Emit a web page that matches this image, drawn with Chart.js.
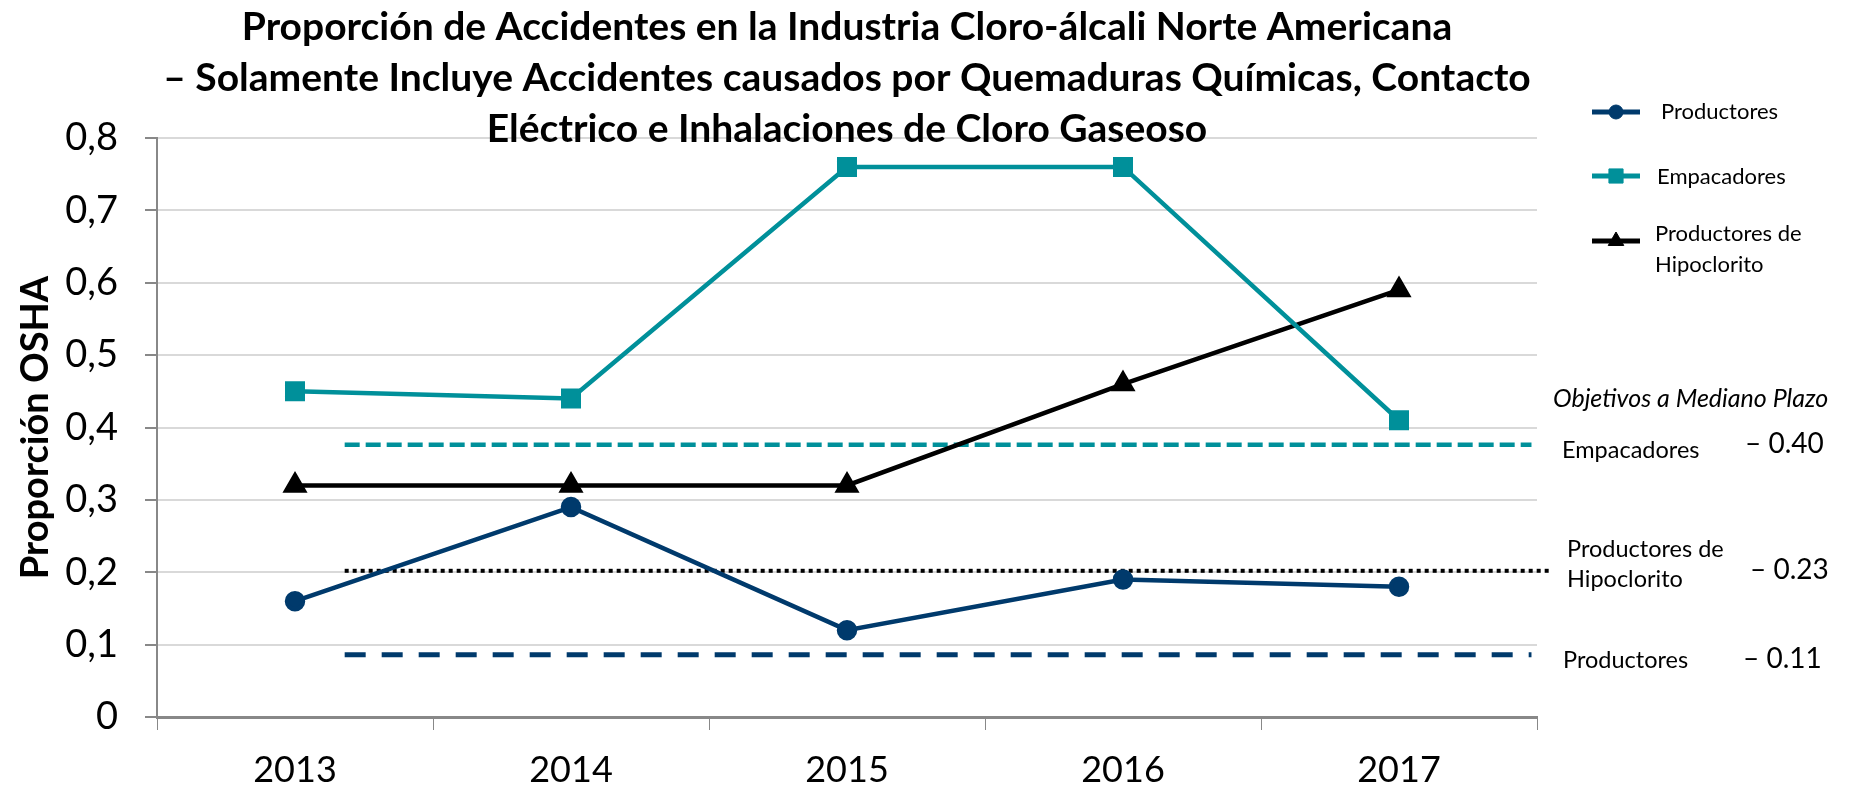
<!DOCTYPE html>
<html>
<head>
<meta charset="utf-8">
<script src="https://cdn.jsdelivr.net/npm/chart.js@4/dist/chart.umd.min.js"></script>
<style>
  html, body { margin: 0; padding: 0; background: #fff; }
  #wrap { width: 1854px; height: 790px; }
</style>
</head>
<body>
<div id="wrap"><canvas id="accChart" width="1854" height="790"></canvas></div>
<script>
// data
const years = ['2013', '2014', '2015', '2016', '2017'];
const productores = [0.16, 0.29, 0.12, 0.19, 0.18];
const empacadores = [0.45, 0.44, 0.76, 0.76, 0.41];
const hipoclorito = [0.32, 0.32, 0.32, 0.46, 0.59];

// medium-term targets: level where each line is drawn, and its printed label
const targetNames = ['Empacadores', 'Productores de Hipoclorito', 'Productores'];
const targetLevels = [0.376, 0.202, 0.086];
const targetLabels = ['0.40', '0.23', '0.11'];
const targetStart = [0.18, 0.18, 0.18];
const targetEnd = [4.48, 4.55, 4.48];

const NAVY = '#003A6C';
const TEAL = '#00909A';
const FONT = 'Lato, "Open Sans", sans-serif';

document.addEventListener('DOMContentLoaded', function () {

    const canvas = document.getElementById('accChart');

    const titleLines = [
        'Proporción de Accidentes en la Industria Cloro-álcali Norte Americana',
        '– Solamente Incluye Accidentes causados por Quemaduras Químicas, Contacto',
        'Eléctrico e Inhalaciones de Cloro Gaseoso'
    ];

    function targetSet(i, color, dash, width) {
        return {
            label: 'Objetivo ' + targetNames[i],
            data: [{ x: targetStart[i], y: targetLevels[i] }, { x: targetEnd[i], y: targetLevels[i] }],
            xAxisID: 'xt',
            borderColor: color,
            borderWidth: width,
            borderDash: dash,
            borderCapStyle: 'butt',
            pointRadius: 0,
            clip: false
        };
    }

    // title, legend and target notes drawn on top
    const overlay = {
        id: 'overlay',
        afterDraw(chart) {
            const ctx = chart.ctx;
            const area = chart.chartArea;
            const cx = (area.left + area.right) / 2;
            ctx.save();
            ctx.fillStyle = '#000';
            ctx.textBaseline = 'middle';
            ctx.textAlign = 'center';
            ctx.font = 'bold 39px ' + FONT;
            [27, 78, 129].forEach(function (y, i) {
                ctx.fillText(titleLines[i], cx, y);
            });

            // legend
            const items = [
                { ds: chart.data.datasets[0], y: 112 },
                { ds: chart.data.datasets[1], y: 176 },
                { ds: chart.data.datasets[2], y: 241 }
            ];
            items.forEach(function (it) {
                ctx.strokeStyle = it.ds.borderColor;
                ctx.lineWidth = 5;
                ctx.beginPath();
                ctx.moveTo(1592, it.y);
                ctx.lineTo(1640, it.y);
                ctx.stroke();
                ctx.fillStyle = it.ds.pointBackgroundColor;
                ctx.strokeStyle = it.ds.borderColor;
                ctx.lineWidth = 1;
                Chart.helpers.drawPoint(ctx, {
                    pointStyle: it.ds.pointStyle,
                    radius: it.ds.pointRadius - 1,
                    rotation: 0,
                    borderWidth: 1
                }, 1616, it.y);
            });
            ctx.fillStyle = '#000';
            ctx.textAlign = 'left';
            ctx.font = '22px ' + FONT;
            ctx.fillText('Productores', 1661, 112);
            ctx.fillText('Empacadores', 1657, 177);
            ctx.fillText('Productores de', 1655, 234);
            ctx.fillText('Hipoclorito', 1655, 265);

            // target notes
            ctx.font = 'italic 25px ' + FONT;
            ctx.fillText('Objetivos a Mediano Plazo', 1553, 399);
            ctx.font = '23.5px ' + FONT;
            ctx.fillText('Empacadores', 1562, 450);
            ctx.fillText('Productores de', 1567, 549);
            ctx.fillText('Hipoclorito', 1567, 579);
            ctx.fillText('Productores', 1563, 660);
            ctx.font = '28px ' + FONT;
            ctx.fillText('– ' + targetLabels[0], 1745, 444);
            ctx.fillText('– ' + targetLabels[1], 1750, 570);
            ctx.fillText('– ' + targetLabels[2], 1743, 659);
            ctx.restore();
        }
    };

    new Chart(canvas, {
        type: 'line',
        data: {
            labels: years,
            datasets: [
                {
                    label: 'Productores',
                    data: productores,
                    borderColor: NAVY,
                    backgroundColor: NAVY,
                    pointBackgroundColor: NAVY,
                    pointBorderColor: NAVY,
                    pointStyle: 'circle',
                    pointRadius: 8,
                    borderWidth: 4.5
                },
                {
                    label: 'Empacadores',
                    data: empacadores,
                    borderColor: TEAL,
                    backgroundColor: TEAL,
                    pointBackgroundColor: TEAL,
                    pointBorderColor: TEAL,
                    pointStyle: 'rect',
                    pointRadius: 11,
                    borderWidth: 4.5
                },
                {
                    label: 'Productores de Hipoclorito',
                    data: hipoclorito,
                    borderColor: '#000',
                    backgroundColor: '#000',
                    pointBackgroundColor: '#000',
                    pointBorderColor: '#000',
                    pointStyle: 'triangle',
                    pointRadius: 10,
                    borderWidth: 4.5
                },
                targetSet(0, TEAL, [15, 6], 4.5),
                targetSet(1, '#000', [4, 4], 4),
                targetSet(2, NAVY, [21, 16], 5)
            ]
        },
        options: {
            responsive: false,
            animation: false,
            layout: { padding: { left: 0, right: 317, top: 138, bottom: 0 } },
            plugins: {
                legend: { display: false },
                title: { display: false },
                tooltip: { enabled: false }
            },
            scales: {
                x: {
                    type: 'category',
                    offset: true,
                    grid: {
                        offset: true,
                        drawOnChartArea: false,
                        drawTicks: true,
                        tickLength: 13,
                        color: '#888'
                    },
                    border: { color: '#888', width: 3 },
                    ticks: { color: '#000', padding: 19, font: { family: FONT, size: 36 } },
                    afterFit(scale) { scale.height = 73; }
                },
                xt: {
                    type: 'linear',
                    display: false,
                    min: -0.5,
                    max: 4.5
                },
                y: {
                    min: 0,
                    max: 0.8,
                    ticks: {
                        stepSize: 0.1,
                        color: '#000',
                        padding: 27,
                        font: { family: FONT, size: 38 },
                        callback: function (v) { return v === 0 ? '0' : v.toFixed(1).replace('.', ','); }
                    },
                    grid: { color: '#D9D9D9', lineWidth: 2, tickColor: '#888', tickLength: 12 },
                    border: { color: '#888', width: 2 },
                    title: {
                        display: true,
                        text: 'Proporción OSHA',
                        color: '#000',
                        padding: { top: 13, bottom: 0 },
                        font: { family: FONT, size: 38, weight: 'bold' }
                    },
                    afterFit(scale) { scale.width = 157; }
                }
            }
        },
        plugins: [overlay]
    });
});
</script>
</body>
</html>
